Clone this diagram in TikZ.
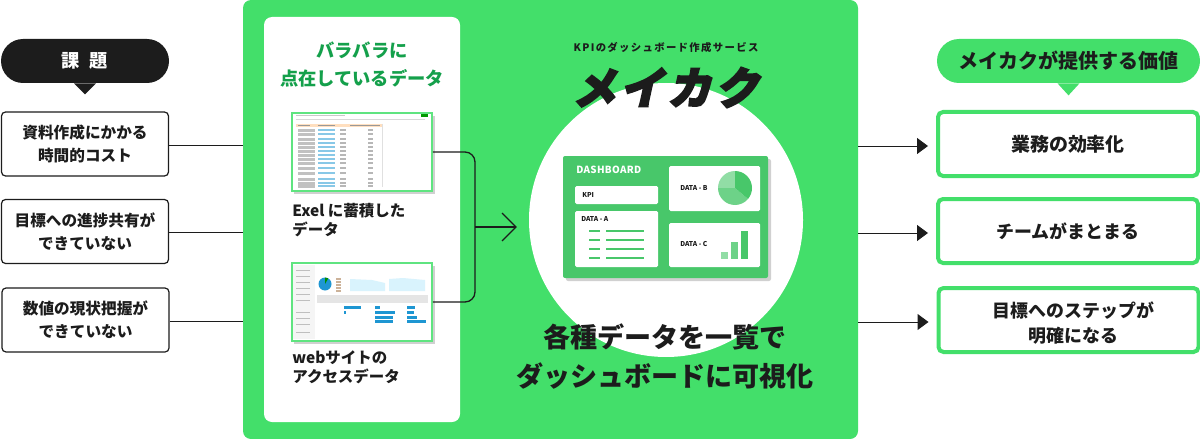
\documentclass[tikz,border=0pt]{standalone}
\usepackage{fontspec}
\setmainfont{Noto Sans CJK JP}
\newfontfamily\logofont{Noto Sans CJK JP}[FakeBold=4,FakeSlant=0.22]
\usetikzlibrary{arrows.meta, calc}

\def\px{0.02cm}
\definecolor{panelgreen}{RGB}{67,223,106}
\definecolor{dashgreen}{RGB}{72,199,106}
\definecolor{titlegreen}{RGB}{20,160,75}
\definecolor{ink}{RGB}{28,28,28}
\definecolor{chartblue}{RGB}{30,150,210}

\tikzset{
  kadaibox/.style={draw=ink, line width=1.2*\px, fill=white, rounded corners=4*\px, minimum width=167*\px, minimum height=64*\px, inner sep=0pt, align=center, text=ink, font=\bfseries\fontsize{8.9}{13.2}\selectfont, execute at begin node={\rule{0pt}{9.6pt}}},
  kachibox/.style={draw=panelgreen, line width=4*\px, fill=white, rounded corners=5*\px, minimum width=260*\px, minimum height=64*\px, inner sep=0pt, align=center, text=ink, font=\bfseries\fontsize{10.2}{14.2}\selectfont},
  pill/.style={rounded corners=22*\px, minimum height=44*\px, inner sep=0pt},
  thumb/.style={draw=panelgreen!85!white, line width=1.5*\px, fill=white, minimum width=140*\px, minimum height=78*\px, inner sep=0pt},
  card/.style={fill=white, rounded corners=1.5*\px, inner sep=0pt},
  caption/.style={anchor=west, inner sep=0pt, align=left, text=ink, font=\bfseries\fontsize{8.8}{10.6}\selectfont},
  dashlabel/.style={anchor=west, inner sep=0pt, text=ink, font=\bfseries\fontsize{3.8}{5}\selectfont},
  link/.style={ink, line width=1*\px},
  flow/.style={ink, line width=1.3*\px},
  cast/.style={black!30, opacity=.6}
}

\begin{document}
\begin{tikzpicture}[x=\px, y=-\px]
  \useasboundingbox (0,0) rectangle (1200,439);

  % Panel verde
  \node[fill=panelgreen, rounded corners=8*\px, minimum width=615*\px, minimum height=439*\px, inner sep=0pt] (panel) at (550.5,219.5) {};
  \node[fill=white, rounded corners=8*\px, minimum width=196*\px, minimum height=405*\px, inner sep=0pt] (sheet) at (362,219.5) {};

  % Burbuja izquierda
  \node[pill, fill=ink, minimum width=168*\px, text=white, font=\bfseries\fontsize{10.4}{12}\selectfont] (kadai) at (85,61) {課\hspace{5.5pt}題};
  \fill[ink] ([xshift=-11*\px]kadai.south) -- ++(22,0) -- ++(-11,11) -- cycle;

  % Cajas izquierda
  \node[kadaibox] (kadaiA) at (85,144) {資料作成にかかる\\時間的コスト};
  \node[kadaibox] (kadaiB) at (85,231.5) {目標への進捗共有が\\できていない};
  \node[kadaibox] (kadaiC) at (85.5,320) {数値の現状把握が\\できていない};
  \foreach \n in {kadaiA, kadaiB, kadaiC}
    \draw[link] ([yshift=-1*\px]\n.east) -- ([yshift=-1*\px]\n.east -| panel.west);

  % Titulo de la hoja
  \node[inner sep=0pt, align=center, text=titlegreen, font=\bfseries\fontsize{10.4}{15.9}\selectfont] (sheettitle) at (362,65) {バラバラに\\点在しているデータ};

  % Captura Exel
  \fill[cast] (294,116) rectangle (435,194);
  \node[thumb] (excel) at (362,152) {};
  \fill[black!35, opacity=.6] (296,115) rectangle (345,116.5);
  \fill[black!25, opacity=.6] (296,119) rectangle (425,120.5);
  \fill[orange!25] (296,124.5) rectangle (383,127);
  \fill[black!40] (298,125) rectangle (310,126.5);
  \fill[black!40] (318,125) rectangle (335,126.5);
  \fill[black!40] (350,125) rectangle (380,126.5);
  \fill[green!60!black] (421,114.5) rectangle (428,117);
  \draw[black!12, line width=.5*\px] (382,124) -- (382,187);
  \foreach \y in {129,133,138,142,146,150,154,158,162,167,172,178,182,185} {
    \fill[black!30, opacity=.8] (298,\y) rectangle (315,\y+2.8);
    \fill[chartblue!70!white, opacity=.75] (318,\y) rectangle (335,\y+2);
    \fill[black!35, opacity=.8] (340,\y) rectangle (346,\y+2);
    \fill[black!35, opacity=.8] (368,\y) rectangle (373,\y+2);
  }
  \node[caption] (excelcap) at (292,220) {Exel に蓄積した\\データ};

  % Captura web
  \fill[cast] (294,266) rectangle (435,344);
  \node[thumb] (web) at (362,302) {};
  \fill[black!4] (293,265) rectangle (315,339);
  \foreach \y in {270,276,282,288,294,300,312,318,324,332}
    \fill[black!25] (296,\y) rectangle (310,\y+1.4);
  \fill[chartblue] (325,284) circle (6.5);
  \fill[green!55!black] (325,284) -- (325,277.5) arc (-90:-60:6.5) -- cycle;
  \foreach \y in {278,281,284,287,290}
    \fill[orange!50!black!40] (336,\y) rectangle (341,\y+1.5);
  \fill[cyan!15] (350,279) -- (372,280) -- (385,283) -- (385,291) -- (350,291) -- cycle;
  \fill[cyan!15] (389,279) -- (403,278) -- (425,280) -- (425,291) -- (389,291) -- cycle;
  \fill[black!10] (317,295) rectangle (428,303);
  \foreach \x/\y/\w in {344/306/17, 344/311/1.5, 375/306/5, 375/311/20, 375/316/18, 375/320/18, 407/306/8, 407/311/7, 407/316/10, 407/320/19}
    \fill[chartblue] (\x,\y) rectangle (\x+\w,\y+2.5);
  \node[caption] (webcap) at (292,367.5) {webサイトの\\アクセスデータ};

  % Conexion de capturas
  \coordinate (join) at (475,227);
  \coordinate (tip) at (516,227);
  \draw[flow, rounded corners=10*\px] (excel.east) -| (join) |- (web.east);
  \draw[flow] (join) -- (tip);
  \draw[flow] (502,213) -- (tip) -- (502,241);

  % Circulo
  \node[circle, fill=white, minimum size=274*\px, inner sep=0pt] (disc) at (666,220) {};

  % Marca
  \node[inner sep=0pt, text=ink, font=\bfseries\fontsize{5.9}{7}\selectfont\addfontfeature{LetterSpace=13}] (service) at (666,48) {KPIのダッシュボード作成サービス};
  \node[inner sep=0pt, text=ink, font=\logofont\bfseries\fontsize{25}{27}\selectfont\addfontfeature{LetterSpace=8}] (logo) at (665.5,87.5) {メイカク};

  % Tablero
  \fill[cast, rounded corners=2*\px] (566,159) rectangle (771,281);
  \node[fill=dashgreen, rounded corners=2*\px, minimum width=205*\px, minimum height=122*\px, inner sep=0pt] (board) at (665.5,217) {};
  \node[anchor=west, inner sep=0pt, text=white, font=\bfseries\fontsize{5.6}{7}\selectfont\addfontfeature{LetterSpace=3}] (boardtitle) at (576,169.5) {DASHBOARD};
  \node[card, minimum width=83*\px, minimum height=18*\px] (kpi) at (616.5,195) {};
  \node[dashlabel] (kpilabel) at (582,195) {KPI};
  \node[card, minimum width=83*\px, minimum height=56*\px] (dataA) at (616.5,239) {};
  \node[dashlabel] (dataAlabel) at (581,219.5) {DATA - A};
  \foreach \y in {231,240,249,258} {
    \draw[dashgreen, line width=1.3*\px] (589,\y) -- (600,\y);
    \draw[dashgreen, line width=1.3*\px] (606,\y) -- (644,\y);
  }
  \node[card, minimum width=91*\px, minimum height=45*\px] (dataB) at (714.5,188.5) {};
  \node[dashlabel] (dataBlabel) at (680,188) {DATA - B};
  \coordinate (pie) at (735,188);
  \fill[dashgreen!60!white] (pie) -- (735,171) arc (-90:-180:17) -- cycle;
  \fill[dashgreen!80!white] (pie) -- (718,188) arc (180:320:17 and -17) -- cycle;
  \fill[dashgreen] (pie) -- (735,171) arc (90:-40:17 and -17) -- cycle;
  \node[card, minimum width=91*\px, minimum height=44*\px] (dataC) at (714.5,245) {};
  \node[dashlabel] (dataClabel) at (680,244) {DATA - C};
  \fill[dashgreen!60!white] (721,252) rectangle (728,259);
  \fill[dashgreen!80!white] (731,242) rectangle (738,259);
  \fill[dashgreen] (741,231) rectangle (748,259);

  % Titulo central
  \node[inner sep=0pt, align=center, text=ink, font=\bfseries\fontsize{15.4}{22.2}\selectfont] (headline) at (665,356.5) {各種データを一覧で\\ダッシュボードに可視化};

  % Burbuja derecha
  \node[pill, fill=panelgreen, minimum width=263*\px, text=ink, font=\bfseries\fontsize{11.4}{13}\selectfont] (kachi) at (1068.5,61) {メイカクが提供する価値};
  \fill[panelgreen] ([xshift=-11*\px]kachi.south) -- ++(22,0) -- ++(-11,12) -- cycle;

  % Cajas derecha
  \node[kachibox] (kachiA) at (1068,144) {\fontsize{10.8}{14}\selectfont 業務の効率化};
  \node[kachibox] (kachiB) at (1068,231) {チームがまとまる};
  \node[kachibox] (kachiC) at (1068.5,320) {\rule{0pt}{12.5pt}\hspace*{5.5pt}目標へのステップが\\\hspace*{5.5pt}明確になる};
  \foreach \n in {kachiA, kachiB, kachiC}
    \draw[link, -{Stealth[length=11*\px, width=16*\px, inset=0pt]}] ([yshift=-2*\px]\n.west -| panel.east) -- ([xshift=-8*\px, yshift=-2*\px]\n.west);

\end{tikzpicture}
\end{document}
